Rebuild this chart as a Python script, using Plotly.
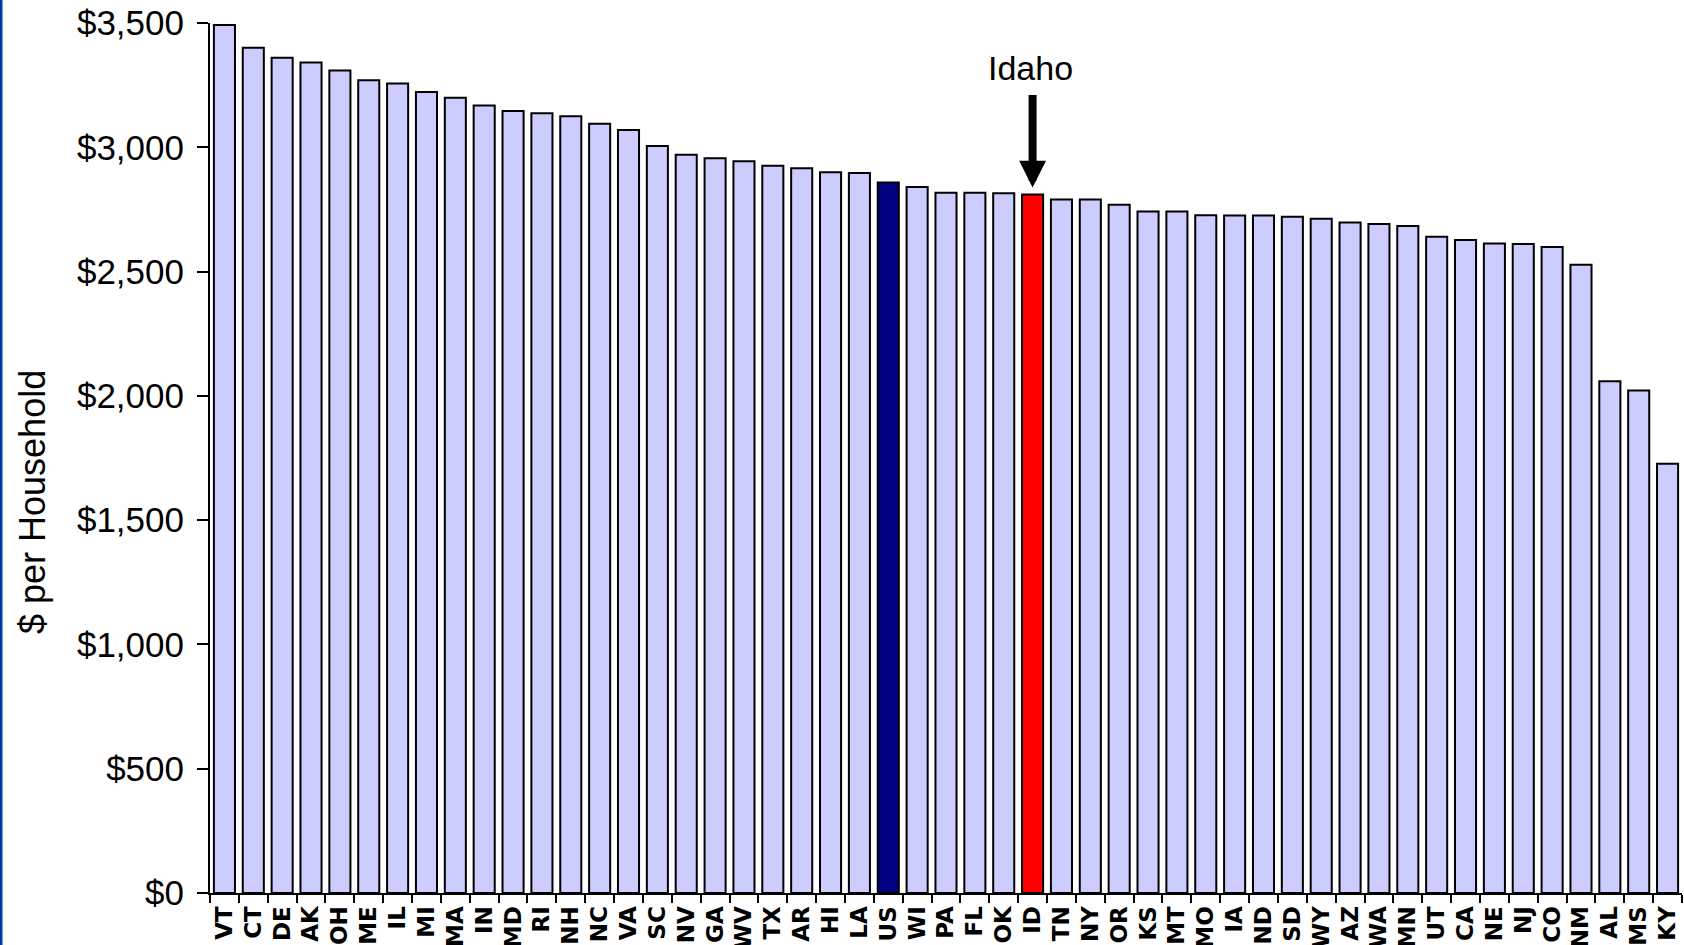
import plotly.graph_objects as go

states = ["VT","CT","DE","AK","OH","ME","IL","MI","MA","IN","MD","RI","NH","NC","VA",
          "SC","NV","GA","WV","TX","AR","HI","LA","US","WI","PA","FL","OK","ID","TN",
          "NY","OR","KS","MT","MO","IA","ND","SD","WY","AZ","WA","MN","UT","CA","NE",
          "NJ","CO","NM","AL","MS","KY"]
values = [3492, 3400, 3360, 3341, 3309, 3270, 3257, 3222, 3199, 3168, 3146, 3137, 3125, 3095, 3070,
          3005, 2970, 2956, 2944, 2926, 2916, 2900, 2897, 2858, 2840, 2817, 2817, 2815, 2810, 2790,
          2790, 2769, 2742, 2742, 2727, 2726, 2726, 2721, 2713, 2697, 2691, 2683, 2640, 2627, 2613,
          2611, 2599, 2527, 2059, 2022, 1727]
highlight = {"US": "#000080", "ID": "#FF0000"}
base_color = "#CCCCFF"
y_ticks = [0, 500, 1000, 1500, 2000, 2500, 3000, 3500]
y_tick_labels = ["$" + f"{v:,}" for v in y_ticks]
y_title = "$ per Household"
idaho_label = "Idaho"
idaho_code = "ID"

W, H = 1684, 945
ML, MR, MT, MB = 210, 2, 23, 52
pw = W - ML - MR
ph = H - MT - MB

colors = [highlight.get(s, base_color) for s in states]

fig = go.Figure(go.Bar(
    x=states, y=values,
    marker=dict(color=colors, line=dict(color="black", width=2)),
    width=0.73,
))

font_family = "Arial, Liberation Sans, sans-serif"

fig.update_layout(
    width=W, height=H,
    margin=dict(l=ML, r=MR, t=MT, b=MB, autoexpand=False),
    paper_bgcolor="white", plot_bgcolor="white",
    showlegend=False,
    font=dict(family=font_family, color="black"),
)

fig.update_xaxes(
    type="category",
    showline=True, linecolor="black", linewidth=2,
    ticks="outside", tickson="boundaries", ticklen=8, tickwidth=2, tickcolor="black",
    tickangle=-90,
    tickfont=dict(size=23, family="DejaVu Sans", weight="bold", color="black"),
    ticklabelstandoff=2,
    showgrid=False, zeroline=False,
    automargin=False,
)

fig.update_yaxes(
    range=[0, 3500],
    tickvals=y_ticks, ticktext=y_tick_labels,
    showline=True, linecolor="black", linewidth=2,
    ticks="outside", ticklen=11, tickwidth=2, tickcolor="black",
    tickfont=dict(size=35, family=font_family, color="black"),
    ticklabelstandoff=6,
    showgrid=False, zeroline=False,
    automargin=False,
)

fig.add_annotation(
    xref="paper", yref="paper",
    x=(32 - ML) / pw, y=0.5 - 44 / ph,
    xanchor="center", yanchor="middle",
    text=y_title, textangle=-90, showarrow=False,
    font=dict(size=36, family=font_family, color="black"),
)

id_val = values[states.index(idaho_code)]
fig.add_annotation(
    x=idaho_code, y=id_val, xref="x", yref="y",
    text="", showarrow=True,
    ax=0, ay=-101, axref="pixel", ayref="pixel",
    arrowhead=2, arrowwidth=8, arrowsize=0.67, arrowcolor="black",
    standoff=7,
)
fig.add_annotation(
    x=idaho_code, y=id_val, xref="x", yref="y",
    text=idaho_label, showarrow=False,
    yshift=127, xshift=-2,
    font=dict(size=34, family=font_family, color="black"),
)

fig.add_shape(
    type="rect", xref="paper", yref="paper",
    x0=-ML / pw, x1=(-ML + 2.5) / pw,
    y0=-MB / ph, y1=1 + MT / ph,
    fillcolor="#0038A0", line=dict(width=0), layer="above",
)

fig.write_html("out.html")
